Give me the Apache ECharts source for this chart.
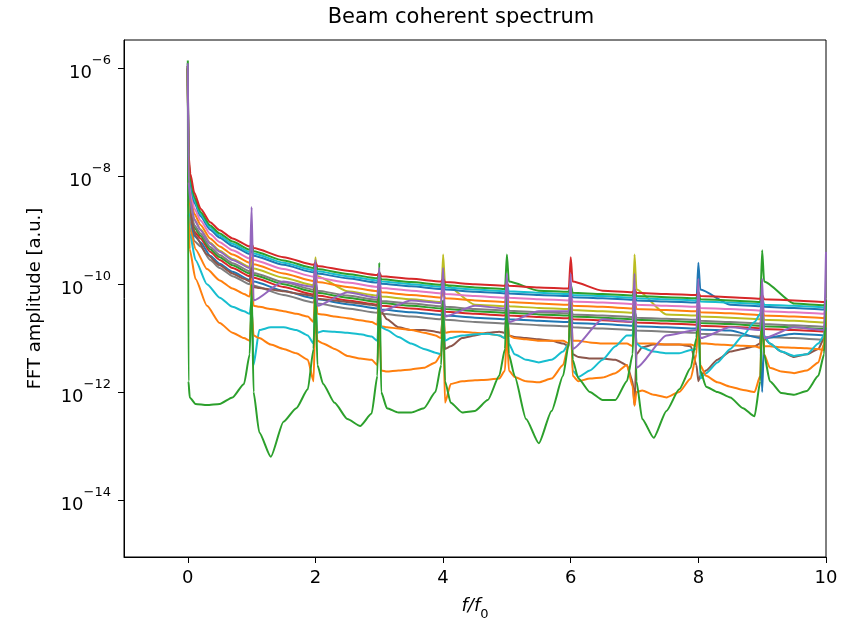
<!DOCTYPE html>
<html><head><meta charset="utf-8">
<script src="https://cdn.jsdelivr.net/npm/echarts@6/dist/echarts.min.js"></script>
<style>html,body{margin:0;padding:0;background:#fff}#c{width:848px;height:621px}</style>
</head><body><div id="c"></div>
<script>
// ---- data (values are exponents: amplitude = 10^e) ----
const X_BAND = [0, 0.01, 0.04, 0.1, 0.2, 0.35, 0.5, 0.7, 0.97, 1,
  1.03, 1.5, 1.97, 2, 2.03, 2.5, 2.97, 3, 3.03, 3.5, 3.97, 4, 4.03, 4.5, 4.97, 5,
  5.03, 5.5, 5.97, 6, 6.03, 6.5, 6.97, 7, 7.03, 7.5, 7.97, 8, 8.03, 8.5, 8.97, 9,
  9.03, 9.5, 9.97, 10];
const X_DETAIL = [0, 0.01,
  0.03, 0.12, 0.3, 0.5, 0.7, 0.88, 0.97, 1,
  1.03, 1.12, 1.3, 1.5, 1.7, 1.88, 1.97, 2,
  2.03, 2.12, 2.3, 2.5, 2.7, 2.88, 2.97, 3,
  3.03, 3.12, 3.3, 3.5, 3.7, 3.88, 3.97, 4,
  4.03, 4.12, 4.3, 4.5, 4.7, 4.88, 4.97, 5,
  5.03, 5.12, 5.3, 5.5, 5.7, 5.88, 5.97, 6,
  6.03, 6.12, 6.3, 6.5, 6.7, 6.88, 6.97, 7,
  7.03, 7.12, 7.3, 7.5, 7.7, 7.88, 7.97, 8,
  8.03, 8.12, 8.3, 8.5, 8.7, 8.88, 8.97, 9,
  9.03, 9.12, 9.3, 9.5, 9.7, 9.88, 9.97, 10];

const BAND_RED_TOP = [-5.95, -7.6, -7.95, -8.3, -8.6, -8.85, -9.0, -9.15, -9.3, -9.25, -9.33, -9.5, -9.64, -9.6, -9.66, -9.75, -9.83, -9.78, -9.85, -9.9, -9.95, -9.9, -9.96, -10.0, -10.03, -9.98, -10.03, -10.06, -10.08, -9.5, -9.95, -10.12, -10.15, -10.1, -10.16, -10.18, -10.2, -10.15, -10.22, -10.24, -10.27, -10.2, -10.28, -10.3, -10.33, -10.3];
const BAND_GREEN = [-5.9, -7.68, -8.03, -8.38, -8.66, -8.91, -9.06, -9.21, -9.36, -9.25, -9.39, -9.56, -9.7, -9.6, -9.72, -9.81, -9.89, -9.8, -9.91, -9.96, -10.01, -9.9, -10.02, -10.06, -10.09, -9.45, -9.95, -10.12, -10.14, -10.0, -10.16, -10.18, -10.21, -10.1, -10.22, -10.24, -10.26, -10.15, -10.28, -10.3, -10.33, -9.37, -9.95, -10.36, -10.39, -10.3];
const BAND_CYAN = [-5.95, -7.73, -8.08, -8.43, -8.7, -8.95, -9.1, -9.25, -9.4, -9.3, -9.43, -9.6, -9.74, -9.65, -9.76, -9.85, -9.93, -9.85, -9.95, -10.0, -10.05, -9.95, -10.06, -10.1, -10.13, -10.0, -10.13, -10.16, -10.18, -10.05, -10.2, -10.22, -10.25, -10.15, -10.26, -10.28, -10.3, -10.2, -10.32, -10.34, -10.37, -10.25, -10.38, -10.4, -10.43, -10.3];
const BAND_BLUE = [-5.95, -7.78, -8.13, -8.48, -8.74, -8.99, -9.14, -9.29, -9.44, -9.35, -9.47, -9.64, -9.78, -9.7, -9.8, -9.89, -9.97, -9.85, -9.99, -10.04, -10.09, -10.0, -10.1, -10.14, -10.17, -10.05, -10.17, -10.2, -10.22, -10.1, -10.24, -10.26, -10.29, -10.2, -10.3, -10.32, -10.34, -9.6, -10.1, -10.38, -10.41, -10.3, -10.42, -10.44, -10.47, -10.35];
const BAND_PINK = [-6.0, -7.89, -8.24, -8.59, -8.82, -9.07, -9.22, -9.37, -9.52, -9.4, -9.55, -9.72, -9.86, -9.75, -9.88, -9.97, -10.05, -9.95, -10.07, -10.12, -10.17, -10.05, -10.18, -10.22, -10.25, -10.1, -10.25, -10.28, -10.3, -10.2, -10.32, -10.34, -10.37, -10.25, -10.38, -10.4, -10.42, -10.3, -10.44, -10.46, -10.49, -10.35, -10.5, -10.52, -10.55, -10.4];
const BAND_ORANGE = [-6.0, -7.99, -8.34, -8.69, -8.9, -9.15, -9.3, -9.45, -9.6, -9.5, -9.63, -9.8, -9.94, -9.85, -9.96, -10.05, -10.13, -10.0, -10.15, -10.2, -10.25, -10.15, -10.26, -10.3, -10.33, -10.2, -10.33, -10.36, -10.38, -10.25, -10.4, -10.42, -10.45, -10.3, -10.46, -10.48, -10.5, -10.4, -10.52, -10.54, -10.57, -10.45, -10.58, -10.6, -10.63, -10.5];
const BAND_OLIVE = [-6.0, -8.09, -8.44, -8.79, -8.98, -9.23, -9.38, -9.53, -9.68, -9.55, -9.71, -9.88, -10.02, -9.5, -9.85, -10.13, -10.21, -10.1, -10.23, -10.28, -10.33, -9.45, -10.0, -10.38, -10.41, -10.3, -10.41, -10.44, -10.46, -10.35, -10.48, -10.5, -10.53, -9.45, -10.1, -10.56, -10.58, -10.45, -10.6, -10.62, -10.65, -10.5, -10.66, -10.68, -10.71, -10.55];
const BAND_GRAY = [-6.0, -8.2, -8.55, -8.9, -9.06, -9.31, -9.46, -9.61, -9.76, -9.6, -9.79, -9.96, -10.1, -9.95, -10.12, -10.21, -10.29, -10.15, -10.31, -10.36, -10.41, -10.3, -10.42, -10.46, -10.49, -10.35, -10.49, -10.52, -10.54, -10.4, -10.56, -10.58, -10.61, -10.5, -10.62, -10.64, -10.66, -10.55, -10.68, -10.7, -10.73, -10.6, -10.74, -10.76, -10.79, -10.65];
const BAND_GREEN_LOW = [-6.0, -8.25, -8.6, -8.95, -9.1, -9.35, -9.5, -9.65, -9.8, -9.65, -9.83, -10.0, -10.14, -10.0, -10.16, -10.25, -10.33, -10.2, -10.35, -10.4, -10.45, -10.35, -10.46, -10.5, -10.53, -10.4, -10.53, -10.56, -10.58, -10.45, -10.6, -10.62, -10.65, -10.5, -10.66, -10.68, -10.7, -10.6, -10.72, -10.74, -10.77, -10.65, -10.78, -10.8, -10.83, -10.7];
const BAND_RED_LOW = [-6.0, -8.32, -8.67, -9.02, -9.15, -9.4, -9.55, -9.7, -9.85, -9.7, -9.88, -10.05, -10.19, -10.05, -10.21, -10.3, -10.38, -10.25, -10.4, -10.45, -10.5, -10.4, -10.51, -10.55, -10.58, -10.45, -10.58, -10.61, -10.63, -10.5, -10.65, -10.67, -10.7, -10.55, -10.71, -10.73, -10.75, -10.6, -10.77, -10.79, -10.82, -10.7, -10.83, -10.85, -10.88, -10.7];
const BAND_BLUE_LOW = [-6.0, -8.4, -8.75, -9.1, -9.22, -9.47, -9.62, -9.77, -9.92, -9.8, -9.95, -10.12, -10.26, -10.1, -10.28, -10.37, -10.45, -10.3, -10.47, -10.52, -10.57, -10.45, -10.58, -10.62, -10.65, -10.5, -10.65, -10.68, -10.7, -10.55, -10.72, -10.74, -10.77, -10.6, -10.78, -10.8, -10.82, -10.7, -10.84, -10.86, -11.0, -12.0, -11.0, -10.92, -10.95, -10.8];
const BAND_GRAY_LOW = [-6.0, -8.5, -8.85, -9.2, -9.3, -9.55, -9.7, -9.85, -10.0, -9.85, -10.03, -10.2, -10.34, -10.2, -10.36, -10.45, -10.53, -10.4, -10.55, -10.6, -10.65, -10.5, -10.66, -10.7, -10.73, -10.6, -10.73, -10.76, -10.78, -10.65, -10.8, -10.82, -10.85, -10.7, -10.86, -10.88, -10.9, -10.75, -10.92, -10.94, -10.97, -10.8, -10.98, -11.0, -11.03, -10.85];
const PURPLE_SPIKES = [-5.9, -8.1, -8.45, -8.8, -9.0, -9.25, -9.4, -9.55, -9.7, -8.57, -10.3, -9.95, -10.05, -9.55, -10.4, -10.15, -10.25, -9.7, -10.5, -10.3, -10.35, -9.7, -10.6, -10.4, -10.45, -9.8, -10.7, -10.5, -10.5, -9.8, -11.2, -10.65, -10.7, -9.8, -11.55, -10.95, -10.85, -9.9, -11.0, -10.8, -10.85, -9.9, -11.0, -10.8, -10.85, -9.4];

const GREEN_LOW = [-5.85, -11.8,
  -12.1, -12.22, -12.24, -12.22, -12.1, -11.85, -11.3, -10.0,
  -12.0, -12.75, -13.2, -12.55, -12.3, -11.95, -11.2, -10.0,
  -11.5, -11.85, -12.2, -12.5, -12.63, -12.4, -11.7, -9.6,
  -12.0, -12.3, -12.38, -12.38, -12.3, -12.0, -11.5, -10.3,
  -11.8, -12.2, -12.38, -12.35, -12.15, -11.7, -11.2, -10.2,
  -11.3, -11.7, -12.5, -12.95, -12.35, -11.7, -11.1, -10.2,
  -11.4, -11.75, -12.0, -12.15, -12.15, -11.8, -11.3, -10.2,
  -11.8, -12.5, -12.85, -12.35, -11.95, -11.55, -11.0, -10.3,
  -11.6, -11.9, -12.0, -12.1, -12.3, -12.45, -11.8, -10.3,
  -11.3, -11.8, -12.02, -12.05, -11.98, -11.7, -11.3, -10.3];
const ORANGE_LOW = [-5.95, -8.7,
  -9.35, -9.9, -10.4, -10.72, -10.9, -11.0, -11.05, -10.5,
  -10.95, -11.0, -11.12, -11.2, -11.28, -11.4, -11.8, -10.5,
  -11.05, -11.1, -11.2, -11.33, -11.38, -11.4, -11.5, -10.7,
  -11.6, -11.62, -11.6, -11.58, -11.55, -11.45, -11.3, -10.6,
  -12.2, -11.85, -11.8, -11.78, -11.77, -11.75, -11.6, -10.8,
  -11.6, -11.72, -11.8, -11.82, -11.75, -11.5, -11.1, -10.3,
  -11.7, -11.8, -11.75, -11.73, -11.65, -11.5, -11.9, -12.25,
  -12.0, -11.97, -12.05, -12.1, -12.0, -11.75, -11.3, -10.4,
  -11.5, -11.7, -11.82, -11.9, -11.96, -12.0, -11.7, -10.5,
  -11.3, -11.55, -11.62, -11.65, -11.6, -11.45, -11.1, -10.5];
const ORANGE_MID = [-5.95, -8.4,
  -8.95, -9.35, -9.72, -9.93, -10.08, -10.18, -10.23, -9.9,
  -10.4, -10.42, -10.46, -10.5, -10.55, -10.6, -10.7, -10.0,
  -10.55, -10.56, -10.6, -10.63, -10.67, -10.7, -10.75, -10.2,
  -10.78, -10.8, -10.82, -10.85, -10.9, -10.95, -11.0, -10.4,
  -10.9, -10.88, -10.88, -10.9, -10.92, -10.95, -11.0, -10.4,
  -10.95, -11.0, -11.02, -11.05, -11.05, -11.05, -11.1, -10.4,
  -11.05, -11.05, -11.08, -11.1, -11.1, -11.1, -11.15, -10.5,
  -11.1, -11.1, -11.1, -11.12, -11.12, -11.12, -11.15, -10.5,
  -11.1, -11.1, -11.12, -11.13, -11.14, -11.15, -11.18, -10.5,
  -11.15, -11.15, -11.17, -11.18, -11.19, -11.2, -11.22, -10.5];
const CYAN_LOW = [-5.95, -8.5,
  -9.05, -9.55, -10.0, -10.25, -10.42, -10.5, -10.55, -10.3,
  -11.5, -10.85, -10.8, -10.8, -10.85, -10.95, -11.1, -10.3,
  -10.9, -10.87, -10.88, -10.9, -10.93, -10.97, -11.05, -10.4,
  -10.8, -10.85, -10.98, -11.1, -11.2, -11.27, -11.3, -10.5,
  -11.05, -11.0, -10.95, -10.93, -10.92, -10.95, -11.0, -10.4,
  -11.1, -11.3, -11.4, -11.45, -11.4, -11.25, -11.1, -10.5,
  -11.6, -11.72, -11.6, -11.4, -11.15, -10.95, -10.95, -10.4,
  -11.1, -11.18, -11.25, -11.28, -11.28, -11.22, -11.2, -10.4,
  -11.75, -11.65, -11.45, -11.2, -10.95, -10.7, -10.55, -10.3,
  -10.95, -11.1, -11.25, -11.33, -11.3, -11.1, -10.95, -10.4];
const BROWN_LOW = [-6.0, -8.3,
  -8.65, -9.1, -9.45, -9.65, -9.8, -9.9, -9.95, -9.7,
  -10.05, -10.07, -10.1, -10.13, -10.17, -10.2, -10.22, -9.9,
  -10.27, -10.28, -10.3, -10.33, -10.36, -10.38, -10.4, -10.0,
  -10.5, -10.65, -10.8, -10.85, -10.85, -10.88, -10.9, -10.5,
  -11.2, -11.15, -11.0, -10.95, -10.9, -10.88, -10.9, -10.4,
  -10.95, -10.98, -11.0, -11.02, -11.05, -11.1, -11.15, -10.6,
  -11.3, -11.35, -11.38, -11.38, -11.4, -11.5, -11.8, -12.25,
  -11.3, -11.17, -11.12, -11.12, -11.12, -11.15, -11.5, -11.8,
  -11.7, -11.6, -11.4, -11.25, -11.2, -11.15, -11.1, -10.6,
  -11.0, -11.1, -11.25, -11.35, -11.3, -11.2, -11.0, -10.6];

const X_TICKS = [0, 2, 4, 6, 8, 10];
const Y_TICKS = [1e-14, 1e-12, 1e-10, 1e-8, 1e-6];

// ---- styling / assembly ----
const C = {blue:'#1f77b4', orange:'#ff7f0e', green:'#2ca02c', red:'#d62728', purple:'#9467bd',
  brown:'#8c564b', pink:'#e377c2', gray:'#7f7f7f', olive:'#bcbd22', cyan:'#17becf'};
const LINES = [
  [X_BAND, BAND_GRAY_LOW, C.gray],
  [X_BAND, BAND_BLUE_LOW, C.blue],
  [X_BAND, BAND_RED_LOW, C.red],
  [X_BAND, BAND_GREEN_LOW, C.green],
  [X_BAND, BAND_GRAY, C.gray],
  [X_BAND, BAND_OLIVE, C.olive],
  [X_BAND, BAND_ORANGE, C.orange],
  [X_BAND, BAND_PINK, C.pink],
  [X_BAND, BAND_BLUE, C.blue],
  [X_BAND, BAND_CYAN, C.cyan],
  [X_BAND, BAND_GREEN, C.green],
  [X_BAND, BAND_RED_TOP, C.red],
  [X_DETAIL, BROWN_LOW, C.brown],
  [X_DETAIL, ORANGE_MID, C.orange],
  [X_DETAIL, CYAN_LOW, C.cyan],
  [X_DETAIL, ORANGE_LOW, C.orange],
  [X_DETAIL, GREEN_LOW, C.green],
  [X_BAND, PURPLE_SPIKES, C.purple]
];
const FONT = 'DejaVu Sans';
const series = LINES.map(([xs, es, col], k) => ({
  type: 'line', showSymbol: false, symbol: 'none', z: 2 + k * 0.01,
  smooth: 0.2, smoothMonotone: 'x',
  lineStyle: {color: col, width: 2}, itemStyle: {color: col},
  data: xs.map((x, i) => [x, Math.pow(10, es[i])])
}));

const chart = echarts.init(document.getElementById('c'), null, {renderer: 'canvas'});
chart.setOption({
  animation: false,
  backgroundColor: '#fff',
  grid: {left: 124, top: 40, width: 702, height: 517, outerBoundsMode: 'none', containLabel: false,
    show: true, borderColor: '#000', borderWidth: 1, backgroundColor: 'transparent'},
  graphic: [{type: 'text', x: 461, y: 7, style: {text: 'Beam coherent spectrum', font: '21px "DejaVu Sans"', fill: '#000', textAlign: 'center'}}],
  xAxis: {
    type: 'value', min: -1, max: 10,
    axisLine: {show: true, onZero: false, lineStyle: {color: '#000', width: 1}},
    splitLine: {show: false},
    axisTick: {show: true, customValues: X_TICKS, length: 6, lineStyle: {color: '#000'}},
    axisLabel: {customValues: X_TICKS, fontFamily: FONT, fontSize: 18, color: '#000', margin: 12},
    name: '{i|f/f}{s|0}', nameLocation: 'middle', nameGap: 40,
    nameTextStyle: {rich: {
      i: {fontFamily: FONT, fontSize: 18, fontStyle: 'italic', color: '#000', lineHeight: 24, verticalAlign: 'top'},
      s: {fontFamily: FONT, fontSize: 13, color: '#000', lineHeight: 16, verticalAlign: 'bottom'}
    }}
  },
  yAxis: {
    type: 'log', logBase: 10, min: Math.pow(10, -15.06), max: Math.pow(10, -5.47),
    axisLine: {show: true, onZero: false, lineStyle: {color: '#000', width: 1}},
    splitLine: {show: false}, minorTick: {show: false},
    axisTick: {show: true, customValues: Y_TICKS, length: 6, lineStyle: {color: '#000'}},
    axisLabel: {customValues: Y_TICKS, margin: 13,
      formatter: v => '{b|10}{s|\u2212' + Math.abs(Math.round(Math.log10(v))) + '}',
      rich: {
        b: {fontFamily: FONT, fontSize: 18, color: '#000', lineHeight: 28, verticalAlign: 'bottom'},
        s: {fontFamily: FONT, fontSize: 13, color: '#000', lineHeight: 20, verticalAlign: 'top'}
      }},
    name: 'FFT amplitude [a.u.]', nameLocation: 'middle', nameGap: 80, nameRotate: 90,
    nameTextStyle: {fontFamily: FONT, fontSize: 18, color: '#000'}
  },
  series: series
});
</script></body></html>
